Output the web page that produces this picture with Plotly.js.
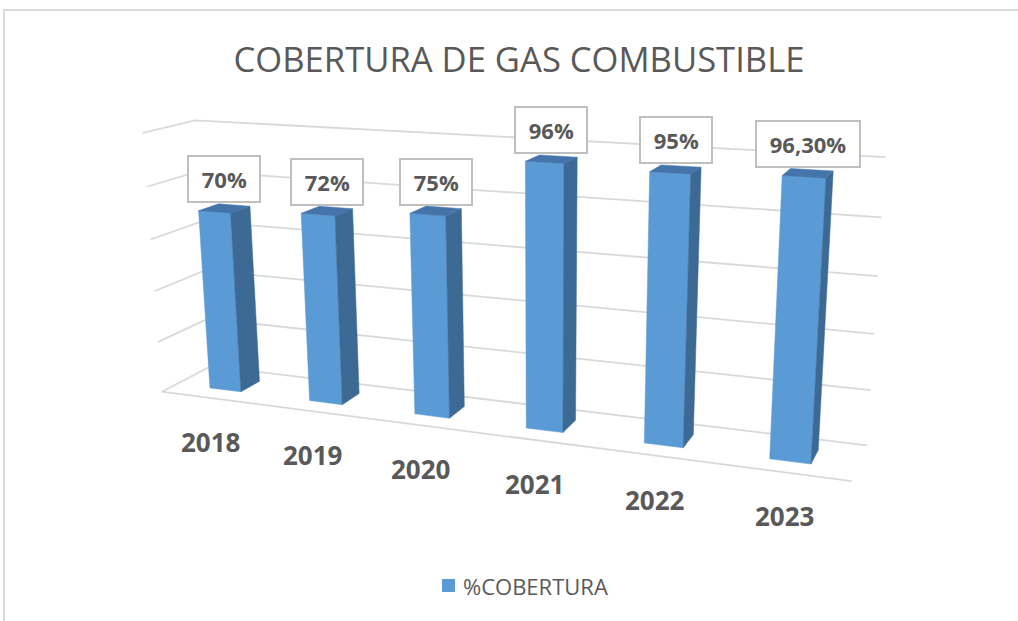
<!DOCTYPE html>
<html>
<head>
<meta charset="utf-8">
<script src="https://cdn.plot.ly/plotly-3.0.1.min.js"></script>
<style>html,body{margin:0;padding:0;background:#fff;}#chart{width:1018px;height:621px;}</style>
</head>
<body>
<div id="chart"></div>
<script>
// ---- data ----
const years = ['2018', '2019', '2020', '2021', '2022', '2023'];
const coverage = [70, 72, 75, 96, 95, 96.3];
const valueLabels = ['70%', '72%', '75%', '96%', '95%', '96,30%'];
const gridValues = [0, 20, 40, 60, 80, 100];
const seriesName = '%COBERTURA';

// ---- 3D scene: perspective camera (world box: X categories, Y depth, Z value) ----
const W = 1018, Hpx = 621;
const BOX_X = 4.64, BOX_D = 0.614, BOX_H = 1.769, VMAX = 100;
const BAR_W = 0.245;
const U0 = 514, V0 = 315, FOC = 1467.6;
const T0 = [-2.400, -0.5226, 10.0];              // camera coords of front-left-bottom corner
const AX = [0.9330, -0.0918, -0.3481];            // world X axis in camera frame
const AY = [0.3599, 0.2522, 0.8983];              // world depth axis in camera frame
const AZ = [-0.0053, 0.9633, -0.2684];            // world up axis in camera frame
function proj(a, b, c) {
  const p = [0, 1, 2].map(k => T0[k] + a * AX[k] + b * AY[k] + c * AZ[k]);
  return [U0 + FOC * p[0] / p[2], V0 - FOC * p[1] / p[2]];
}
const zOf = v => v / VMAX * BOX_H;
const catX = i => (i + 0.5) * BOX_X / years.length;

const FRONT = '#5B9BD5', SIDE = '#3D6A94', TOP = '#4474A9';
const GRID = '#D9D9D9';
const traces = [];

function polyline(pts, color, width) {
  traces.push({type: 'scatter', mode: 'lines', x: pts.map(p => p[0]), y: pts.map(p => p[1]),
    line: {color: color, width: width}, hoverinfo: 'skip', showlegend: false});
}
// gridlines on left wall + back wall
gridValues.forEach(g => {
  polyline([proj(0, 0, zOf(g)), proj(0, BOX_D, zOf(g)), proj(BOX_X, BOX_D, zOf(g))], GRID, 1.8);
});
// floor front edge
polyline([proj(0, 0, 0), proj(BOX_X, 0, 0)], GRID, 1.8);

function face(corners, color) {
  const pts = corners.map(c => proj(c[0], c[1], c[2]));
  pts.push(pts[0]);
  traces.push({type: 'scatter', mode: 'lines', x: pts.map(p => p[0]), y: pts.map(p => p[1]),
    fill: 'toself', fillcolor: color, line: {color: color, width: 0.5},
    hoverinfo: 'skip', showlegend: false});
}

const annotations = [];
const d0 = (BOX_D - BAR_W) / 2, d1 = (BOX_D + BAR_W) / 2;
coverage.forEach((v, i) => {
  const xc = catX(i), x0 = xc - BAR_W / 2, x1 = xc + BAR_W / 2;
  const z = zOf(v);
  face([[x0, d0, 0], [x1, d0, 0], [x1, d0, z], [x0, d0, z]], FRONT);
  face([[x1, d0, 0], [x1, d1, 0], [x1, d1, z], [x1, d0, z]], SIDE);
  face([[x0, d0, z], [x1, d0, z], [x1, d1, z], [x0, d1, z]], TOP);
  const top = proj(xc, BOX_D / 2, z);
  annotations.push({x: top[0], y: top[1], xref: 'x', yref: 'y', xanchor: 'center', yanchor: 'bottom',
    yshift: 5, showarrow: false, text: '\u00a0<b>' + valueLabels[i] + '</b>\u00a0',
    font: {family: 'Open Sans, sans-serif', size: 22, color: '#595959'},
    bgcolor: '#FFFFFF', bordercolor: '#BFBFBF', borderwidth: 2, borderpad: 7});
  const base = proj(xc, 0, 0);
  annotations.push({x: base[0], y: base[1], xref: 'x', yref: 'y', xanchor: 'center', yanchor: 'middle',
    yshift: -44, showarrow: false, text: '<b>' + years[i] + '</b>',
    font: {family: 'Open Sans, sans-serif', size: 26, color: '#595959'}});
});

// legend (marker square + label)
annotations.push({x: 461, y: 586, xref: 'x', yref: 'y', xanchor: 'left', yanchor: 'middle', showarrow: false,
  text: seriesName, font: {family: 'Open Sans, sans-serif', size: 22, color: '#595959'}});

const layout = {
  width: W, height: Hpx,
  margin: {l: 0, r: 0, t: 0, b: 0},
  paper_bgcolor: '#FFFFFF', plot_bgcolor: '#FFFFFF',
  hovermode: false, showlegend: false,
  title: {text: 'COBERTURA DE GAS COMBUSTIBLE', x: 519 / 1018, xanchor: 'center', y: 1 - 60 / 621, yanchor: 'middle',
          font: {family: 'Open Sans, sans-serif', size: 34.6, color: '#595959'}},
  xaxis: {range: [0, W], visible: false, fixedrange: true},
  yaxis: {range: [Hpx, 0], visible: false, fixedrange: true},
  annotations: annotations,
  shapes: [
    {type: 'rect', xref: 'paper', yref: 'paper', x0: 4 / 1018, x1: 1.05, y0: -0.05, y1: 1 - 10 / 621,
     line: {color: '#D9D9D9', width: 2}, fillcolor: 'rgba(0,0,0,0)', layer: 'below'},
    {type: 'rect', xref: 'x', yref: 'y', x0: 442, x1: 455, y0: 579, y1: 592,
     line: {width: 0}, fillcolor: FRONT}
  ]
};

Plotly.newPlot('chart', traces, layout, {displayModeBar: false, staticPlot: true});
</script>
</body>
</html>
